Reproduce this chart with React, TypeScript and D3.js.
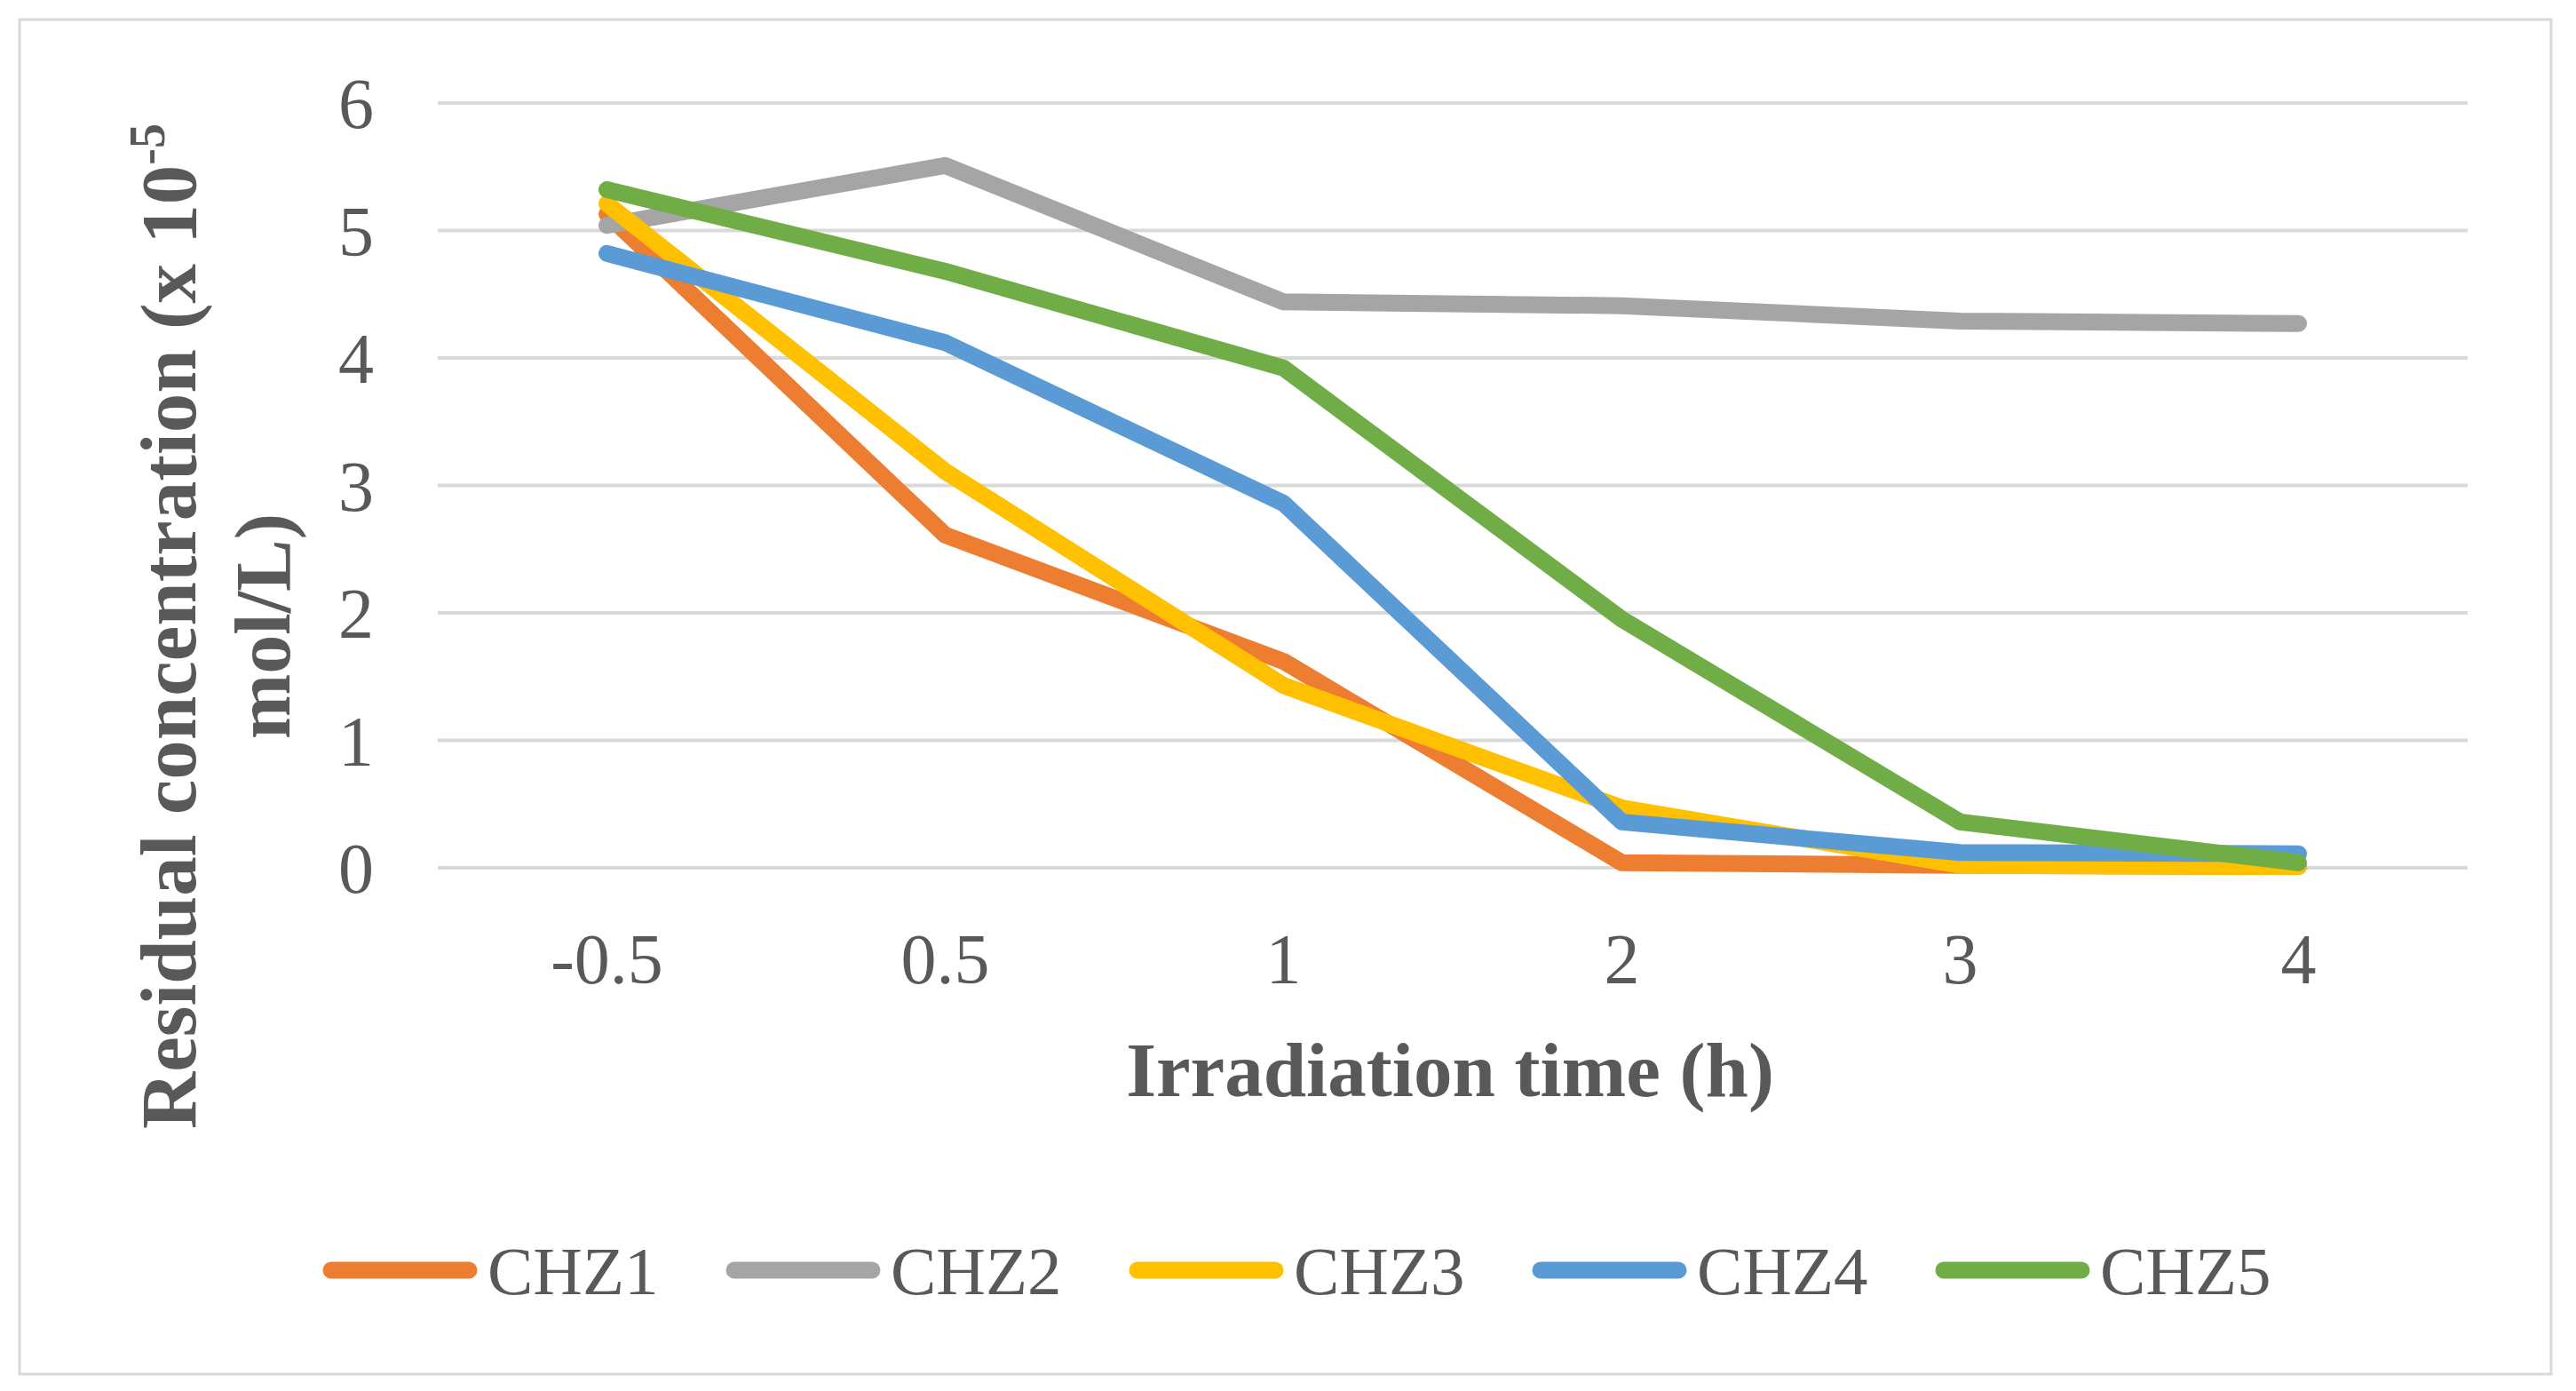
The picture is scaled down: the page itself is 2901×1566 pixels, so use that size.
import React from "react";
import * as d3 from "d3";

const categories = ["-0.5", "0.5", "1", "2", "3", "4"];
const chz1 = [5.13, 2.61, 1.62, 0.04, 0.02, 0.01];
const chz2 = [5.04, 5.51, 4.44, 4.41, 4.29, 4.27];
const chz3 = [5.21, 3.11, 1.43, 0.47, 0.02, 0.01];
const chz4 = [4.82, 4.12, 2.86, 0.36, 0.12, 0.11];
const chz5 = [5.32, 4.68, 3.92, 1.95, 0.36, 0.04];
const seriesNames = ["CHZ1", "CHZ2", "CHZ3", "CHZ4", "CHZ5"];
const seriesColors = ["#ED7D31", "#A5A5A5", "#FFC000", "#5B9BD5", "#70AD47"];
const yTicks = [0, 1, 2, 3, 4, 5, 6];

const W = 2901;
const H = 1566;
const FONT = "'Liberation Serif', 'Times New Roman', serif";
const TEXT = "#595959";

export default function App() {
  const seriesValues = [chz1, chz2, chz3, chz4, chz5];
  const x = d3.scaleBand<string>().domain(categories).range([493, 2779]);
  const y = d3.scaleLinear().domain([0, 6]).range([977, 116]);
  const line = d3
    .line<number>()
    .x((_, i) => (x(categories[i]) as number) + x.bandwidth() / 2)
    .y((d) => y(d));

  const legendX = d3.scaleLinear().domain([0, 1]).range([364, 818]);

  return (
    <div style={{ position: "absolute", left: 0, top: 0 }}>
      <svg width={W} height={H} viewBox={`0 0 ${W} ${H}`}>
        <rect x={0} y={0} width={W} height={H} fill="#ffffff" />
        <rect x={22} y={22} width={2851} height={1525} fill="#ffffff" stroke="#d9d9d9" strokeWidth={3} />
        {/* gridlines */}
        {yTicks.map((t) => (
          <line key={"g" + t} x1={493} x2={2779} y1={y(t)} y2={y(t)} stroke="#d9d9d9" strokeWidth={4} />
        ))}
        {/* y tick labels */}
        {yTicks.map((t) => (
          <text
            key={"yt" + t}
            x={421}
            y={y(t)}
            dy="0.35em"
            textAnchor="end"
            fontFamily={FONT}
            fontSize={80}
            fill={TEXT}
          >
            {t}
          </text>
        ))}
        {/* x tick labels */}
        {categories.map((c) => (
          <text
            key={"xt" + c}
            x={(x(c) as number) + x.bandwidth() / 2}
            y={1107}
            textAnchor="middle"
            fontFamily={FONT}
            fontSize={80}
            fill={TEXT}
          >
            {c}
          </text>
        ))}
        {/* series */}
        {seriesValues.map((vals, i) => (
          <path
            key={"s" + i}
            d={line(vals) || ""}
            fill="none"
            stroke={seriesColors[i]}
            strokeWidth={19}
            strokeLinejoin="round"
            strokeLinecap="round"
          />
        ))}
        {/* x axis title */}
        <text x={1633} y={1234} textAnchor="middle" fontFamily={FONT} fontSize={87} fontWeight="bold" fill={TEXT}>
          Irradiation time (h)
        </text>
        {/* y axis title */}
        <text
          transform="translate(220,705) rotate(-90)"
          textAnchor="middle"
          fontFamily={FONT}
          fontSize={89}
          fontWeight="bold"
          fill={TEXT}
        >
          Residual concentration (x 10
          <tspan fontSize={56} dy={-35}>
            -5
          </tspan>
        </text>
        <text
          transform="translate(326,705) rotate(-90)"
          textAnchor="middle"
          fontFamily={FONT}
          fontSize={88}
          fontWeight="bold"
          fill={TEXT}
        >
          mol/L)
        </text>
        {/* legend */}
        {seriesNames.map((n, i) => {
          const x0 = legendX(i);
          return (
            <g key={"l" + n}>
              <line
                x1={x0 + 9}
                x2={x0 + 164}
                y1={1430}
                y2={1430}
                stroke={seriesColors[i]}
                strokeWidth={19}
                strokeLinecap="round"
              />
              <text x={x0 + 185} y={1457} fontFamily={FONT} fontSize={77} fill={TEXT}>
                {n}
              </text>
            </g>
          );
        })}
      </svg>
    </div>
  );
}
